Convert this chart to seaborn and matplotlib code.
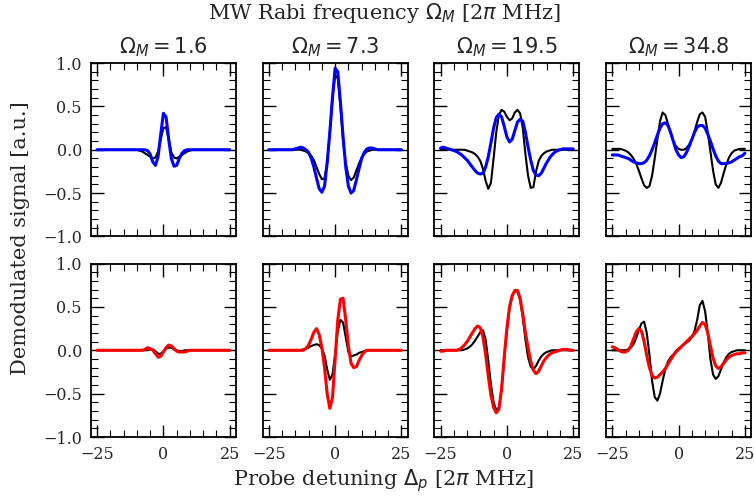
import numpy as np
import matplotlib
matplotlib.use('Agg')
import matplotlib.pyplot as plt
import seaborn as sns
from matplotlib.ticker import MultipleLocator

# Probe detuning grid [2pi MHz]
detuning = list(range(-25, 26))

# MW Rabi frequencies (column titles)
omega_m = ['1.6', '7.3', '19.5', '34.8']

# Top row: theory (black) and experiment (blue)
theory_top_1 = [0]*16 + [-0.01, -0.02, -0.04, -0.06, -0.08, -0.10, -0.09, -0.02, 0.12, 0.25, 0.26, 0.12, -0.03, -0.09, -0.10, -0.08, -0.06, -0.04, -0.02, -0.01] + [0]*15
exp_top_1 = [0]*19 + [-0.01, -0.05, -0.14, -0.18, -0.08, 0.18, 0.42, 0.38, 0.12, -0.10, -0.19, -0.18, -0.10, -0.04, -0.01] + [0]*17

theory_top_2 = [0]*13 + [-0.01, -0.02, -0.04, -0.07, -0.12, -0.20, -0.28, -0.34, -0.33, -0.15, 0.20, 0.60, 0.86, 0.82, 0.50, 0.10, -0.15, -0.30, -0.35, -0.32, -0.24, -0.16, -0.09, -0.05, -0.02, -0.01] + [0]*12
exp_top_2 = [0]*10 + [0.01, 0.02, 0.03, 0.02, 0.0, -0.03, -0.10, -0.20, -0.33, -0.45, -0.49, -0.42, -0.15, 0.20, 0.60, 0.94, 0.90, 0.55, 0.15, -0.20, -0.42, -0.50, -0.47, -0.35, -0.22, -0.10, -0.03, 0.01, 0.02, 0.02, 0.01] + [0]*10

theory_top_3 = [0]*10 + [-0.01, -0.02, -0.03, -0.05, -0.08, -0.13, -0.22, -0.36, -0.45, -0.38, -0.10, 0.20, 0.40, 0.46, 0.44, 0.38, 0.34, 0.36, 0.43, 0.46, 0.42, 0.25, -0.05, -0.30, -0.44, -0.43, -0.25, -0.13, -0.07, -0.04, -0.02, -0.01] + [0]*9
exp_top_3 = [0.02, 0.03, 0.02, 0.01, 0.0, -0.01, -0.02, -0.04, -0.06, -0.09, -0.12, -0.16, -0.20, -0.24, -0.27, -0.28, -0.27, -0.20, -0.08, 0.08, 0.25, 0.37, 0.41, 0.38, 0.27, 0.15, 0.09, 0.12, 0.22, 0.32, 0.35, 0.33, 0.20, 0.03, -0.12, -0.24, -0.29, -0.30, -0.27, -0.21, -0.15, -0.10, -0.06, -0.03, -0.01, 0.0, 0.01, 0.01, 0.01, 0.01, 0.01]

theory_top_4 = [0.01, 0.01, 0.01, 0.01, 0.0, -0.01, -0.03, -0.06, -0.10, -0.16, -0.24, -0.33, -0.41, -0.44, -0.42, -0.30, -0.10, 0.12, 0.33, 0.43, 0.40, 0.30, 0.19, 0.10, 0.04, 0.01, 0.0, 0.0, 0.02, 0.06, 0.12, 0.21, 0.32, 0.41, 0.43, 0.38, 0.20, -0.02, -0.24, -0.40, -0.44, -0.38, -0.27, -0.17, -0.09, -0.04, -0.01, 0.0, 0.01, 0.01, 0.01]
exp_top_4 = [-0.06, -0.06, -0.06, -0.07, -0.08, -0.09, -0.10, -0.12, -0.14, -0.15, -0.16, -0.16, -0.15, -0.12, -0.07, 0.0, 0.08, 0.17, 0.25, 0.30, 0.31, 0.28, 0.20, 0.10, 0.0, -0.06, -0.09, -0.08, -0.03, 0.04, 0.12, 0.20, 0.26, 0.28, 0.28, 0.25, 0.18, 0.10, 0.01, -0.07, -0.13, -0.16, -0.16, -0.16, -0.15, -0.14, -0.12, -0.10, -0.08, -0.07, -0.04]

# Bottom row: theory (black) and experiment (red)
theory_bot_1 = [0]*20 + [0.01, 0.01, -0.01, -0.04, -0.04, -0.01, 0.02, 0.03, 0.03, 0.01, 0.0, -0.01, -0.01] + [0]*18
exp_bot_1 = [0]*18 + [0.01, 0.03, 0.02, 0.0, -0.04, -0.08, -0.07, -0.02, 0.03, 0.06, 0.05, 0.02, -0.01, -0.02, -0.02, -0.02, -0.01] + [0]*16

theory_bot_2 = [0]*13 + [0.01, 0.02, 0.03, 0.05, 0.06, 0.07, 0.06, 0.02, -0.06, -0.22, -0.34, -0.28, -0.05, 0.22, 0.35, 0.32, 0.15, -0.02, -0.07, -0.06, -0.05, -0.03, -0.02, -0.01] + [0]*14
exp_bot_2 = [0]*14 + [0.02, 0.06, 0.13, 0.21, 0.25, 0.18, 0.03, -0.20, -0.50, -0.67, -0.55, -0.10, 0.35, 0.59, 0.60, 0.35, 0.05, -0.15, -0.20, -0.19, -0.12, -0.06, -0.02] + [0]*14

theory_bot_3 = [0]*9 + [0.01, 0.02, 0.04, 0.07, 0.11, 0.16, 0.21, 0.23, 0.12, -0.12, -0.40, -0.60, -0.69, -0.66, -0.45, -0.10, 0.22, 0.48, 0.63, 0.68, 0.68, 0.58, 0.38, 0.12, -0.08, -0.19, -0.22, -0.18, -0.12, -0.07, -0.04, -0.02, -0.01] + [0]*9
exp_bot_3 = [-0.01, -0.01, 0, 0, 0, 0, 0, 0.01, 0.03, 0.06, 0.10, 0.15, 0.20, 0.25, 0.28, 0.26, 0.15, -0.05, -0.30, -0.52, -0.66, -0.72, -0.68, -0.45, -0.08, 0.25, 0.50, 0.63, 0.69, 0.69, 0.60, 0.42, 0.20, 0.03, -0.13, -0.23, -0.27, -0.24, -0.18, -0.12, -0.08, -0.05, -0.03, -0.02, -0.01, 0.0, 0.01, 0.01, 0.01, 0.0, 0.0]

theory_bot_4 = [0, 0, 0, 0, 0, 0.0, 0.01, 0.03, 0.07, 0.14, 0.23, 0.31, 0.33, 0.20, -0.05, -0.35, -0.54, -0.58, -0.50, -0.35, -0.22, -0.13, -0.08, -0.05, -0.01, 0.02, 0.04, 0.07, 0.09, 0.11, 0.15, 0.22, 0.35, 0.52, 0.57, 0.45, 0.20, -0.10, -0.28, -0.33, -0.30, -0.22, -0.14, -0.08, -0.04, -0.02, -0.01, 0, 0, 0, 0]
exp_bot_4 = [0.04, 0.03, 0.01, -0.01, -0.02, -0.02, 0.0, 0.05, 0.13, 0.21, 0.25, 0.22, 0.10, -0.06, -0.20, -0.29, -0.32, -0.31, -0.28, -0.25, -0.21, -0.16, -0.11, -0.06, -0.02, 0.01, 0.04, 0.07, 0.10, 0.13, 0.16, 0.19, 0.23, 0.28, 0.32, 0.30, 0.20, 0.05, -0.09, -0.18, -0.21, -0.19, -0.15, -0.11, -0.08, -0.06, -0.05, -0.04, -0.04, -0.03, -0.03]

theory = [[theory_top_1, theory_top_2, theory_top_3, theory_top_4],
          [theory_bot_1, theory_bot_2, theory_bot_3, theory_bot_4]]
experiment = [[exp_top_1, exp_top_2, exp_top_3, exp_top_4],
              [exp_bot_1, exp_bot_2, exp_bot_3, exp_bot_4]]
exp_colors = ['blue', 'red']

sns.set_style('ticks')
plt.rcParams['font.family'] = ['DejaVu Serif']
plt.rcParams['mathtext.fontset'] = 'dejavusans'

fig, axes = plt.subplots(2, 4, figsize=(7.54, 4.97), dpi=100, sharex=True, sharey=True)
fig.subplots_adjust(left=0.1207, right=0.996, top=0.8732, bottom=0.1207, wspace=0.186, hspace=0.156)

for r in range(2):
    for c in range(4):
        ax = axes[r, c]
        sns.lineplot(x=detuning, y=theory[r][c], ax=ax, color='black', lw=1.5)
        sns.lineplot(x=detuning, y=experiment[r][c], ax=ax, color=exp_colors[r], lw=2.2)
        ax.set_xlim(-27.3, 27.3)
        ax.set_ylim(-1.0, 1.0)
        ax.xaxis.set_major_locator(MultipleLocator(25))
        ax.xaxis.set_minor_locator(MultipleLocator(5))
        ax.yaxis.set_major_locator(MultipleLocator(0.5))
        ax.yaxis.set_minor_locator(MultipleLocator(0.1))
        ax.tick_params(which='both', direction='in', top=True, right=True,
                       labelsize=11.5, pad=6.5, color='black')
        ax.tick_params(which='major', length=9, width=1.0)
        ax.tick_params(which='minor', length=5, width=0.8)
        for sp in ax.spines.values():
            sp.set_linewidth(1.3)
            sp.set_color('black')
        if r == 0:
            ax.set_title(r'$\Omega_M = ' + omega_m[c] + '$', fontsize=15, pad=7)

fig.suptitle(r'MW Rabi frequency $\Omega_M$ [2$\pi$ MHz]', fontsize=15, x=0.51, y=0.997)
fig.text(0.509, 0.033, r'Probe detuning $\Delta_p$ [2$\pi$ MHz]', fontsize=15, ha='center', va='center')
fig.text(0.027, 0.52, 'Demodulated signal [a.u.]', fontsize=15, ha='center', va='center', rotation=90)

plt.savefig('out.png', dpi=100)
